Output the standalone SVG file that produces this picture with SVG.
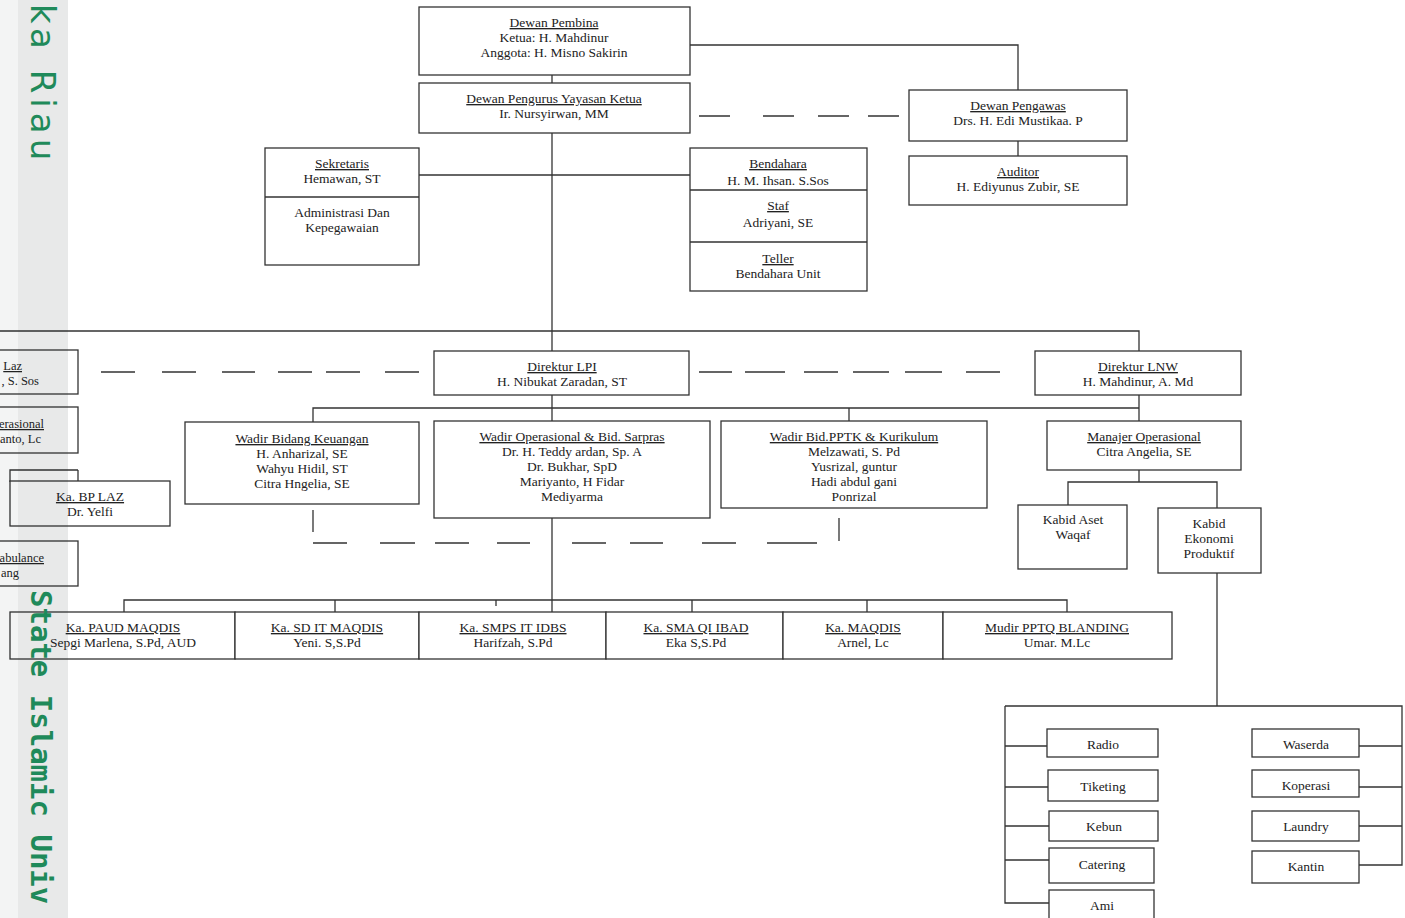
<svg xmlns="http://www.w3.org/2000/svg" width="1405" height="918" viewBox="0 0 1405 918">
<style>
.b{fill:#fff;stroke:#333;stroke-width:1.3}
.l{fill:none;stroke:#333;stroke-width:1.3}
.t{font-family:"Liberation Serif","Times New Roman",serif;font-size:13.5px;fill:#222;text-anchor:middle}
.s{font-size:12.5px}
.u{text-decoration:underline}
.e{text-anchor:end}
.wm{fill:#1f8a5a;font-weight:bold}
</style>
<rect x="0" y="0" width="1405" height="918" fill="#fff"/>
<g id="connectors">
<path class="l" d="M552 75V83"/>
<path class="l" d="M690 45H1018V90"/>
<path class="l" d="M1018 141V156"/>
<path class="l" d="M699 116H730M763 116H794M818 116H849M868 116H899"/>
<path class="l" d="M552 133V351"/>
<path class="l" d="M419 175H690"/>
<path class="l" d="M0 331H1139V351"/>
<path class="l" d="M101 372H135M162 372H196M222 372H255M278 372H312M326 372H360M385 372H419"/>
<path class="l" d="M699 372H732M745 372H785M804 372H838M853 372H889M905 372H942M966 372H1000"/>
<path class="l" d="M552 395V421"/>
<path class="l" d="M313 422V408H1139"/>
<path class="l" d="M849 408V421"/>
<path class="l" d="M1139 395V421"/>
<path class="l" d="M1139 470V482M1068 505V482H1217V508"/>
<path class="l" d="M313 510V532M839 518V541"/>
<path class="l" d="M313 543H347M380 543H415M435 543H469M497 543H530M572 543H606M630 543H663M702 543H736M767 543H817"/>
<path class="l" d="M552 518V612"/>
<path class="l" d="M124 612V600H1067V612"/>
<path class="l" d="M335 600V612M496 600V606M692 600V612M867 600V612"/>
<path class="l" d="M1217 573V706"/>
<path class="l" d="M1005 706H1402V865H1359"/>
<path class="l" d="M1005 706V903H1049"/>
<path class="l" d="M1005 746H1047M1005 787H1048M1005 826H1049M1005 860H1049"/>
<path class="l" d="M1359 746H1402M1359 787H1402M1359 826H1402"/>
<path class="l" d="M78 470H10V482"/>
</g>
<g id="dewan-pembina">
<rect class="b" x="419" y="7" width="271" height="68"/>
<text class="t u" x="554" y="27">Dewan Pembina</text>
<text class="t" x="554" y="42">Ketua: H. Mahdinur</text>
<text class="t" x="554" y="57">Anggota: H. Misno Sakirin</text>
</g>
<g id="dewan-pengurus">
<rect class="b" x="419" y="83" width="271" height="50"/>
<text class="t u" x="554" y="103">Dewan Pengurus Yayasan Ketua</text>
<text class="t" x="554" y="118">Ir. Nursyirwan, MM</text>
</g>
<g id="dewan-pengawas">
<rect class="b" x="909" y="90" width="218" height="51"/>
<text class="t u" x="1018" y="110">Dewan Pengawas</text>
<text class="t" x="1018" y="125">Drs. H. Edi Mustikaa. P</text>
</g>
<g id="auditor">
<rect class="b" x="909" y="156" width="218" height="49"/>
<text class="t u" x="1018" y="176">Auditor</text>
<text class="t" x="1018" y="191">H. Ediyunus Zubir, SE</text>
</g>
<g id="sekretaris">
<rect class="b" x="265" y="148" width="154" height="117"/>
<path class="l" d="M265 197H419"/>
<text class="t u" x="342" y="168">Sekretaris</text>
<text class="t" x="342" y="183">Hemawan, ST</text>
<text class="t" x="342" y="217">Administrasi Dan</text>
<text class="t" x="342" y="232">Kepegawaian</text>
</g>
<g id="bendahara">
<rect class="b" x="690" y="148" width="177" height="143"/>
<path class="l" d="M690 190H867M690 242H867"/>
<text class="t u" x="778" y="168">Bendahara</text>
<text class="t" x="778" y="185">H. M. Ihsan. S.Sos</text>
<text class="t u" x="778" y="210">Staf</text>
<text class="t" x="778" y="227">Adriyani, SE</text>
<text class="t u" x="778" y="263">Teller</text>
<text class="t" x="778" y="278">Bendahara Unit</text>
</g>
<g id="left-laz">
<rect class="b" x="-10" y="350" width="88" height="44"/>
<text class="t s u e" x="22" y="370">Laz</text>
<text class="t s e" x="39" y="385">, S. Sos</text>
</g>
<g id="left-operasional">
<rect class="b" x="-10" y="407" width="88" height="46"/>
<text class="t s u e" x="44" y="428">erasional</text>
<text class="t s e" x="41" y="443">anto, Lc</text>
</g>
<g id="left-hidden">
<path class="l" d="M78 470V482"/>
</g>
<g id="ka-bp-laz">
<rect class="b" x="10" y="481" width="160" height="45"/>
<text class="t u" x="90" y="501">Ka. BP LAZ</text>
<text class="t" x="90" y="516">Dr. Yelfi</text>
</g>
<g id="left-ambulance">
<rect class="b" x="-10" y="541" width="88" height="45"/>
<text class="t s u e" x="44" y="562">abulance</text>
<text class="t s e" x="19" y="577">ang</text>
</g>
<g id="direktur-lpi">
<rect class="b" x="434" y="351" width="255" height="44"/>
<text class="t u" x="562" y="371">Direktur LPI</text>
<text class="t" x="562" y="386">H. Nibukat Zaradan, ST</text>
</g>
<g id="direktur-lnw">
<rect class="b" x="1035" y="351" width="206" height="44"/>
<text class="t u" x="1138" y="371">Direktur LNW</text>
<text class="t" x="1138" y="386">H. Mahdinur, A. Md</text>
</g>
<g id="wadir-keuangan">
<rect class="b" x="185" y="422" width="234" height="82"/>
<text class="t u" x="302" y="443">Wadir Bidang Keuangan</text>
<text class="t" x="302" y="458">H. Anharizal, SE</text>
<text class="t" x="302" y="473">Wahyu Hidil, ST</text>
<text class="t" x="302" y="488">Citra Hngelia, SE</text>
</g>
<g id="wadir-operasional">
<rect class="b" x="434" y="421" width="276" height="97"/>
<text class="t u" x="572" y="441">Wadir Operasional &amp; Bid. Sarpras</text>
<text class="t" x="572" y="456">Dr. H. Teddy ardan, Sp. A</text>
<text class="t" x="572" y="471">Dr. Bukhar, SpD</text>
<text class="t" x="572" y="486">Mariyanto, H Fidar</text>
<text class="t" x="572" y="501">Mediyarma</text>
</g>
<g id="wadir-pptk">
<rect class="b" x="721" y="421" width="266" height="87"/>
<text class="t u" x="854" y="441">Wadir Bid.PPTK &amp; Kurikulum</text>
<text class="t" x="854" y="456">Melzawati, S. Pd</text>
<text class="t" x="854" y="471">Yusrizal, guntur</text>
<text class="t" x="854" y="486">Hadi abdul gani</text>
<text class="t" x="854" y="501">Ponrizal</text>
</g>
<g id="manajer-operasional">
<rect class="b" x="1047" y="421" width="194" height="49"/>
<text class="t u" x="1144" y="441">Manajer Operasional</text>
<text class="t" x="1144" y="456">Citra Angelia, SE</text>
</g>
<g id="kabid-aset">
<rect class="b" x="1018" y="505" width="109" height="64"/>
<text class="t" x="1073" y="524">Kabid Aset</text>
<text class="t" x="1073" y="539">Waqaf</text>
</g>
<g id="kabid-ekonomi">
<rect class="b" x="1158" y="508" width="103" height="65"/>
<text class="t" x="1209" y="528">Kabid</text>
<text class="t" x="1209" y="543">Ekonomi</text>
<text class="t" x="1209" y="558">Produktif</text>
</g>
<g id="ka-paud">
<rect class="b" x="10" y="612" width="225" height="47"/>
<text class="t u" x="123" y="632">Ka. PAUD MAQDIS</text>
<text class="t" x="123" y="647">Sepgi Marlena, S.Pd, AUD</text>
</g>
<g id="ka-sd">
<rect class="b" x="235" y="612" width="184" height="47"/>
<text class="t u" x="327" y="632">Ka. SD IT MAQDIS</text>
<text class="t" x="327" y="647">Yeni. S,S.Pd</text>
</g>
<g id="ka-smps">
<rect class="b" x="419" y="612" width="187" height="47"/>
<text class="t u" x="513" y="632">Ka. SMPS IT IDBS</text>
<text class="t" x="513" y="647">Harifzah, S.Pd</text>
</g>
<g id="ka-sma">
<rect class="b" x="606" y="612" width="177" height="47"/>
<text class="t u" x="696" y="632">Ka. SMA QI IBAD</text>
<text class="t" x="696" y="647">Eka S,S.Pd</text>
</g>
<g id="ka-maqdis">
<rect class="b" x="783" y="612" width="160" height="47"/>
<text class="t u" x="863" y="632">Ka. MAQDIS</text>
<text class="t" x="863" y="647">Arnel, Lc</text>
</g>
<g id="mudir-pptq">
<rect class="b" x="943" y="612" width="229" height="47"/>
<text class="t u" x="1057" y="632">Mudir PPTQ BLANDING</text>
<text class="t" x="1057" y="647">Umar. M.Lc</text>
</g>
<g id="radio"><rect class="b" x="1047" y="729" width="111" height="28"/><text class="t" x="1103" y="749">Radio</text></g>
<g id="tiketing"><rect class="b" x="1048" y="770" width="110" height="31"/><text class="t" x="1103" y="791">Tiketing</text></g>
<g id="kebun"><rect class="b" x="1049" y="811" width="109" height="30"/><text class="t" x="1104" y="831">Kebun</text></g>
<g id="catering"><rect class="b" x="1049" y="848" width="105" height="35"/><text class="t" x="1102" y="869">Catering</text></g>
<g id="ami"><rect class="b" x="1049" y="890" width="105" height="35"/><text class="t" x="1102" y="910">Ami</text></g>
<g id="waserda"><rect class="b" x="1252" y="729" width="107" height="28"/><text class="t" x="1306" y="749">Waserda</text></g>
<g id="koperasi"><rect class="b" x="1252" y="770" width="107" height="27"/><text class="t" x="1306" y="790">Koperasi</text></g>
<g id="laundry"><rect class="b" x="1252" y="811" width="107" height="30"/><text class="t" x="1306" y="831">Laundry</text></g>
<g id="kantin"><rect class="b" x="1252" y="851" width="107" height="32"/><text class="t" x="1306" y="871">Kantin</text></g>
<g id="watermark">
<rect x="0" y="0" width="18" height="918" fill="#1a2a2a" fill-opacity="0.05"/>
<rect x="18" y="0" width="50" height="918" fill="#1a2a2a" fill-opacity="0.1"/>
<text transform="translate(31,4) rotate(90)" font-family="DejaVu Sans,sans-serif" font-size="34" letter-spacing="5" class="wm" style="font-weight:normal">ka Riau</text>
<text transform="translate(31,590) rotate(90)" font-family="DejaVu Sans Mono,monospace" font-size="29" class="wm">State Islamic Univ</text>
</g>
</svg>
